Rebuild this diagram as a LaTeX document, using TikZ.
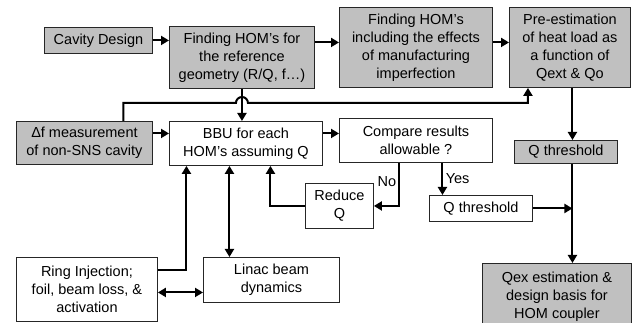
\documentclass[tikz,border=0pt]{standalone}
\usepackage{fontspec}
\setmainfont{Liberation Sans}
\usetikzlibrary{positioning,arrows.meta}
\definecolor{boxgray}{RGB}{192,192,192}

\begin{document}
\begin{tikzpicture}[
  x=1pt, y=-1pt,
  font=\fontsize{14.5}{18}\selectfont,
  blk/.style={draw=black!85, line width=0.9pt, align=center, inner sep=2pt, anchor=north west},
  gblk/.style={blk, fill=boxgray},
  arr/.style={-{Triangle[length=8pt,width=9pt]}, line width=2pt},
  darr/.style={{Triangle[length=8pt,width=9pt]}-{Triangle[length=8pt,width=9pt]}, line width=2pt}
]
\useasboundingbox (0,0) rectangle (632,323);

% top row
\node[gblk, minimum width=108, minimum height=26] (cav) at (44,27) {Cavity Design};
\node[gblk, minimum width=145, minimum height=62] (refg) at (169,26)
  {Finding HOM’s for\\the reference\\geometry (R/Q, f…)};
\node[gblk, minimum width=153, minimum height=80] (manuf) at (339,7)
  {Finding HOM’s\\including the effects\\of manufacturing\\imperfection};
\node[gblk, minimum width=121, minimum height=80] (heat) at (509,7)
  {Pre-estimation\\of heat load as\\a function of\\Qext \& Qo};

% middle row
\node[gblk, minimum width=136, minimum height=43] (dfm) at (16,121)
  {Δf measurement\\of non-SNS cavity};
\node[blk, minimum width=153, minimum height=44] (bbu) at (169,121)
  {BBU for each\\HOM’s assuming Q};
\node[blk, minimum width=153, minimum height=44] (cmp) at (339,118)
  {Compare results\\allowable ?};
\node[gblk, minimum width=103, minimum height=23] (qthg) at (514,140) {Q threshold};
\node[blk, minimum width=68, minimum height=45] (redq) at (305,183) {Reduce\\Q};
\node[blk, minimum width=103, minimum height=26] (qthw) at (429,195) {Q threshold};

% bottom row
\node[blk, minimum width=141, minimum height=64] (ring) at (16,257)
  {Ring Injection;\\foil, beam loss, \&\\activation};
\node[blk, minimum width=136, minimum height=45] (linac) at (203,257)
  {Linac beam\\dynamics};
\node[gblk, minimum width=149, minimum height=66] (qex) at (482,263)
  {Qex estimation \&\\design basis for\\HOM coupler};

\coordinate (bus) at (0,103);
\coordinate (trunk) at ([xshift=2.5pt]heat.south);

\draw[arr] (cav.east) -- (cav.east -| refg.west);
\draw[arr] ([yshift=15pt]refg.east) -- ([yshift=15pt]refg.east -| manuf.west);
\draw[arr] ([yshift=5pt]manuf.east) -- ([yshift=5pt]manuf.east -| heat.west);
\draw[arr] (refg.south) -- (refg.south |- bbu.north);
% feedback line hops over the vertical one
\draw[arr] ([xshift=39pt]dfm.north) |- ([xshift=-6pt]refg.south |- bus)
  arc[start angle=180, end angle=0, radius=6pt] -| ([xshift=-42pt]heat.south);
\draw[arr] ([yshift=9.5pt]dfm.east) -- ([yshift=9.5pt]dfm.east -| bbu.west);
\draw[arr] ([yshift=10pt]bbu.east) -- ([yshift=10pt]bbu.east -| cmp.west);

\draw[arr] (trunk) -- (trunk |- qthg.north);
\draw[arr] (qthg.south -| trunk) -- (qex.north -| trunk);
\draw[arr] (qthw.east) -- (qthw.east -| trunk);

\draw[arr] ([xshift=-16.5pt]cmp.south) |- (redq.east)
  node[pos=0.22, left=-1pt] {No};
\draw[arr] ([xshift=26.5pt]cmp.south) -- ([xshift=26.5pt]cmp.south |- qthw.north)
  node[midway, right=-1pt] {Yes};
\draw[arr] (redq.west) -| ([xshift=24.5pt]bbu.south);

\draw[darr] ([xshift=-16.5pt]bbu.south) -- ([xshift=-16.5pt]bbu.south |- linac.north);
\draw[arr] ([yshift=19pt]ring.east) -| ([xshift=-59.5pt]bbu.south);
\draw[darr] ([yshift=-3pt]ring.east) -- ([yshift=-3pt]ring.east -| linac.west);
\end{tikzpicture}
\end{document}
